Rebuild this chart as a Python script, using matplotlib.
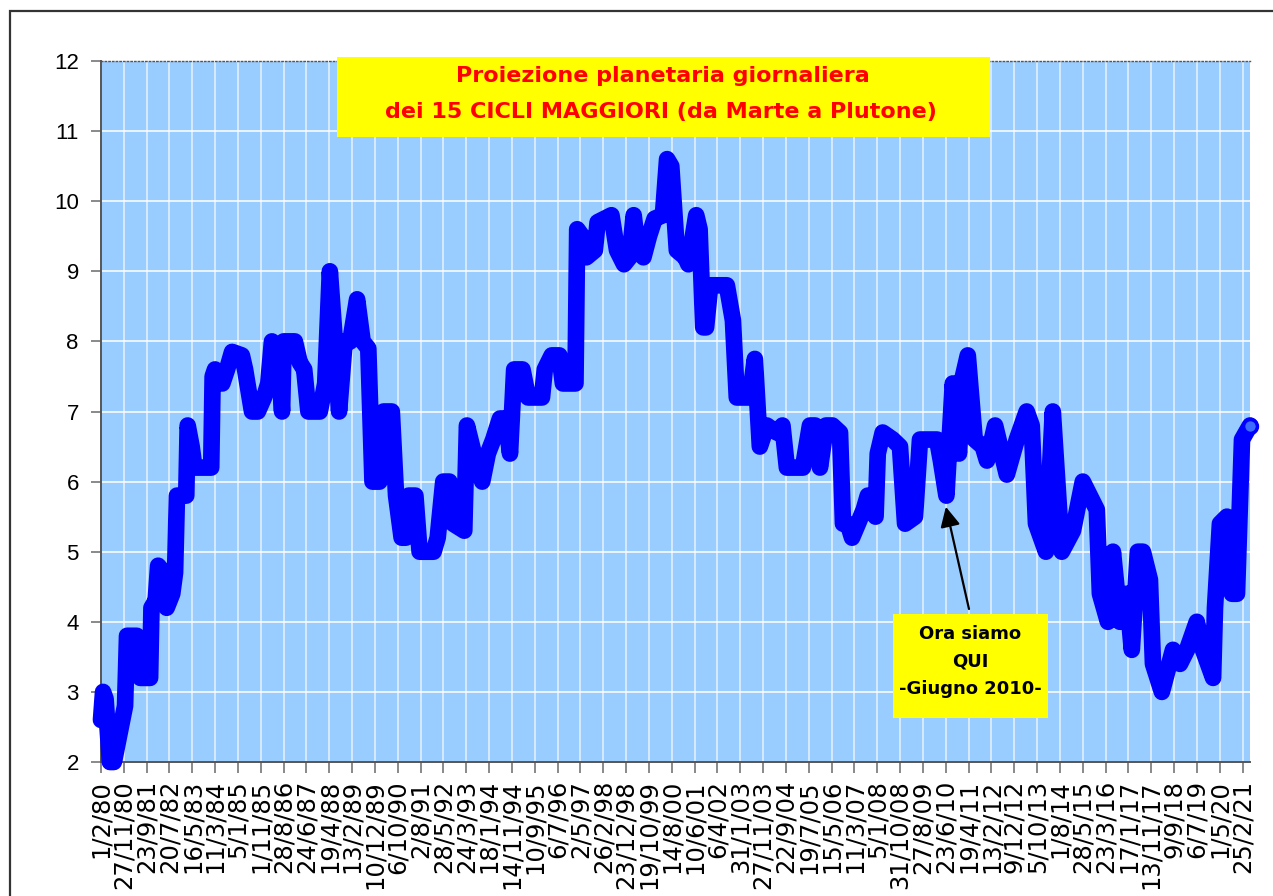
import numpy as np
import matplotlib
matplotlib.use('Agg')
import matplotlib.pyplot as plt
import matplotlib.dates as mdates
from matplotlib.patches import Rectangle

# ---------------- data ----------------
dates = [
    '1980-02-01', '1980-02-28', '1980-04-01', '1980-05-28', '1980-07-19', '1980-10-01',
    '1980-12-13', '1981-01-08', '1981-05-17', '1981-07-01', '1981-11-07', '1981-11-25',
    '1982-01-19', '1982-02-21', '1982-05-07', '1982-06-13', '1982-08-25', '1982-10-01',
    '1982-10-26', '1983-02-25', '1983-03-16', '1983-05-07', '1983-06-13', '1984-01-19',
    '1984-02-07', '1984-03-09', '1984-06-13', '1984-08-14', '1984-10-19', '1985-02-25',
    '1985-04-08', '1985-07-08', '1985-09-23', '1985-12-13', '1986-02-07', '1986-03-27',
    '1986-06-13', '1986-08-07', '1986-08-28', '1987-01-22', '1987-03-27', '1987-05-25',
    '1987-07-19', '1987-12-16', '1988-02-25', '1988-04-26', '1988-07-01', '1988-08-25',
    '1988-11-07', '1989-01-19', '1989-04-19', '1989-07-01', '1989-09-13', '1989-11-07',
    '1990-02-07', '1990-04-01', '1990-07-19', '1990-09-13', '1990-11-25', '1991-01-19',
    '1991-02-25', '1991-05-25', '1991-07-19', '1992-01-19', '1992-03-13', '1992-05-25',
    '1992-08-14', '1992-10-01', '1993-02-25', '1993-04-01', '1993-07-01', '1993-10-19',
    '1994-01-01', '1994-03-13', '1994-06-09', '1994-08-25', '1994-10-19', '1994-12-13',
    '1995-04-01', '1995-06-13', '1995-12-13', '1996-01-19', '1996-04-19', '1996-07-29',
    '1996-09-13', '1997-02-25', '1997-03-20', '1997-05-25', '1997-07-19', '1997-11-07',
    '1997-12-13', '1998-06-13', '1998-08-25', '1998-11-25', '1999-02-07', '1999-04-01',
    '1999-05-25', '1999-08-07', '1999-10-19', '2000-01-01', '2000-04-19', '2000-06-13',
    '2000-08-07', '2000-10-19', '2001-02-07', '2001-03-20', '2001-07-01', '2001-08-14',
    '2001-10-01', '2001-11-07', '2002-01-01', '2002-08-07', '2002-10-26', '2002-12-16',
    '2003-06-05', '2003-08-10', '2003-10-15', '2004-01-15', '2004-05-25', '2004-08-07',
    '2004-10-04', '2005-05-03', '2005-08-03', '2005-10-11', '2005-12-13', '2006-03-02',
    '2006-05-25', '2006-09-02', '2006-10-11', '2006-12-13', '2007-02-07', '2007-04-26',
    '2007-07-11', '2007-09-02', '2007-12-13', '2008-01-11', '2008-03-16', '2008-07-26',
    '2008-10-29', '2009-01-04', '2009-05-14', '2009-07-19', '2010-02-28', '2010-04-19',
    '2010-07-01', '2010-09-23', '2010-12-13', '2011-02-03', '2011-04-08', '2011-07-08',
    '2011-10-22', '2011-12-16', '2012-04-01', '2012-09-02', '2013-01-11', '2013-05-21',
    '2013-07-26', '2013-09-20', '2014-01-29', '2014-04-29', '2014-08-25', '2015-01-19',
    '2015-05-28', '2015-08-28', '2015-11-28', '2016-01-08', '2016-04-22', '2016-06-27',
    '2016-09-27', '2016-12-27', '2017-03-02', '2017-05-21', '2017-07-26', '2017-10-26',
    '2017-12-05', '2018-04-01', '2018-08-25', '2018-11-25', '2019-02-25', '2019-07-04',
    '2019-09-23', '2020-02-03', '2020-02-28', '2020-05-03', '2020-08-03', '2020-10-08',
    '2020-12-13', '2021-02-17', '2021-06-02',
]
values = [
    2.6, 3.0, 2.9, 2.0, 2.0, 2.4,
    2.8, 3.8, 3.8, 3.2, 3.2, 4.2,
    4.3, 4.8, 4.7, 4.2, 4.4, 4.7,
    5.8, 5.8, 6.8, 6.5, 6.2, 6.2,
    7.5, 7.6, 7.4, 7.6, 7.85, 7.8,
    7.6, 7.0, 7.0, 7.2, 7.4, 8.0,
    7.9, 7.0, 8.0, 8.0, 7.7, 7.6,
    7.0, 7.0, 7.4, 9.0, 8.0, 7.0,
    8.0, 8.0, 8.6, 8.0, 7.9, 6.0,
    6.0, 7.0, 7.0, 5.8, 5.2, 5.2,
    5.8, 5.8, 5.0, 5.0, 5.2, 6.0,
    6.0, 5.4, 5.3, 6.8, 6.4, 6.0,
    6.4, 6.6, 6.9, 6.9, 6.4, 7.6,
    7.6, 7.2, 7.2, 7.6, 7.8, 7.8,
    7.4, 7.4, 9.6, 9.5, 9.2, 9.3,
    9.7, 9.8, 9.3, 9.1, 9.2, 9.8,
    9.3, 9.2, 9.5, 9.75, 9.8, 10.6,
    10.5, 9.3, 9.2, 9.1, 9.8, 9.6,
    8.2, 8.2, 8.8, 8.8, 8.3, 7.2,
    7.2, 7.75, 6.5, 6.8, 6.7, 6.8,
    6.2, 6.2, 6.8, 6.8, 6.2, 6.8,
    6.8, 6.7, 5.4, 5.4, 5.2, 5.4,
    5.6, 5.8, 5.5, 6.4, 6.7, 6.6,
    6.5, 5.4, 5.5, 6.6, 6.6, 6.3,
    5.8, 7.4, 6.4, 7.5, 7.8, 6.6,
    6.5, 6.3, 6.8, 6.1, 6.6, 7.0,
    6.8, 5.4, 5.0, 7.0, 5.0, 5.3,
    6.0, 5.8, 5.6, 4.4, 4.0, 5.0,
    4.0, 4.4, 3.6, 5.0, 5.0, 4.6,
    3.4, 3.0, 3.6, 3.4, 3.6, 4.0,
    3.6, 3.2, 4.2, 5.4, 5.5, 4.4,
    4.4, 6.6, 6.8,
]
tick_labels = [
    '1/2/80', '27/11/80', '23/9/81', '20/7/82', '16/5/83', '11/3/84', '5/1/85',
    '1/11/85', '28/8/86', '24/6/87', '19/4/88', '13/2/89', '10/12/89', '6/10/90',
    '2/8/91', '28/5/92', '24/3/93', '18/1/94', '14/11/94', '10/9/95', '6/7/96',
    '2/5/97', '26/2/98', '23/12/98', '19/10/99', '14/8/00', '10/6/01', '6/4/02',
    '31/1/03', '27/11/03', '22/9/04', '19/7/05', '15/5/06', '11/3/07', '5/1/08',
    '31/10/08', '27/8/09', '23/6/10', '19/4/11', '13/2/12', '9/12/12', '5/10/13',
    '1/8/14', '28/5/15', '23/3/16', '17/1/17', '13/11/17', '9/9/18', '6/7/19',
    '1/5/20', '25/2/21',
]
tick_start = '1980-02-01'
tick_step_days = 300
y_ticks = [2, 3, 4, 5, 6, 7, 8, 9, 10, 11, 12]
title_lines = ['Proiezione planetaria giornaliera',
               'dei 15 CICLI MAGGIORI (da Marte a Plutone)']
note_lines = ['Ora siamo', 'QUI', '-Giugno 2010-']
note_date = '2010-06-24'
note_value = 5.64

# ---------------- figure ----------------
W, H = 1273, 896
fig = plt.figure(figsize=(W / 100, H / 100), dpi=100)
fig.patch.set_facecolor('white')


def fx(px):
    return px / W


def fy(py):
    return 1 - py / H


# outer chart border (left / top visible)
fig.patches.append(Rectangle((fx(10), fy(H + 20)), fx(W + 40) - fx(10), fy(11) - fy(H + 20),
                             transform=fig.transFigure, fill=False,
                             edgecolor='#333333', lw=1.6, zorder=0))

ax = fig.add_axes([fx(101), fy(762), fx(1250) - fx(101), fy(61) - fy(762)])
ax.set_facecolor('#99CCFF')

x = np.array(dates, dtype='datetime64[D]')
y = np.array(values)
ax.plot(x, y, color='#0000FF', lw=12, solid_capstyle='round',
        solid_joinstyle='round', clip_on=False, zorder=3)
ax.plot(x[-1:], y[-1:], 'o', ms=10, mfc='#3D6BFF', mec='#0000FF', mew=2.5,
        clip_on=False, zorder=4)

start = np.datetime64(tick_start)
ticks = start + np.arange(len(tick_labels)) * np.timedelta64(tick_step_days, 'D')
ax.set_xticks(mdates.date2num(ticks))
ax.set_xticklabels(tick_labels, rotation=90, fontsize=17.5, family='DejaVu Sans',
                   color='black', va='top', ha='center')
ax.set_xlim(mdates.date2num(start), mdates.date2num(x[-1]))
ax.set_ylim(2, 12)
ax.set_yticks(y_ticks)
ax.set_yticklabels([str(v) for v in y_ticks], fontsize=16, family='Liberation Sans',
                   color='black')

ax.tick_params(axis='y', direction='out', length=7, width=1.3, color='#808080', pad=9)
ax.tick_params(axis='x', direction='out', length=8, width=1.3, color='#808080', pad=5)

ax.grid(True, axis='y', color='white', lw=1.3, alpha=0.85, zorder=1)
ax.grid(True, axis='x', color='white', lw=1.2, alpha=0.7, zorder=1)
ax.set_axisbelow(True)

for s in ['left', 'bottom']:
    ax.spines[s].set_color('#555555')
    ax.spines[s].set_linewidth(1.4)
ax.spines['right'].set_visible(False)
ax.spines['top'].set_linestyle(':')
ax.spines['top'].set_color('#555555')
ax.spines['top'].set_linewidth(1.0)

# title box
fig.patches.append(Rectangle((fx(337), fy(137)), fx(990) - fx(337), fy(57) - fy(137),
                             transform=fig.transFigure, facecolor='#FFFF00',
                             edgecolor='none', zorder=5))
fig.text(fx(663), fy(76), title_lines[0], ha='center', va='center', color='#FF0000',
         fontsize=16, fontweight='bold', family='DejaVu Sans', zorder=6)
fig.text(fx(661), fy(112), title_lines[1], ha='center', va='center', color='#FF0000',
         fontsize=16, fontweight='bold', family='DejaVu Sans', zorder=6)

# annotation box
fig.patches.append(Rectangle((fx(893), fy(718)), fx(1048) - fx(893), fy(614) - fy(718),
                             transform=fig.transFigure, facecolor='#FFFF00',
                             edgecolor='none', zorder=5))
for i, t in enumerate(note_lines):
    fig.text(fx(970), fy(634 + 27.5 * i), t, ha='center', va='center', color='black',
             fontsize=13, fontweight='bold', family='DejaVu Sans', zorder=6)

ax.annotate('', xy=(mdates.date2num(np.datetime64(note_date)), note_value), xycoords='data',
            xytext=(969, H - 609), textcoords='figure pixels',
            arrowprops=dict(arrowstyle='-|>', color='black', lw=1.6,
                            mutation_scale=30, shrinkA=0, shrinkB=0),
            annotation_clip=False, zorder=6)

fig.savefig('out.png', dpi=100, facecolor='white')
